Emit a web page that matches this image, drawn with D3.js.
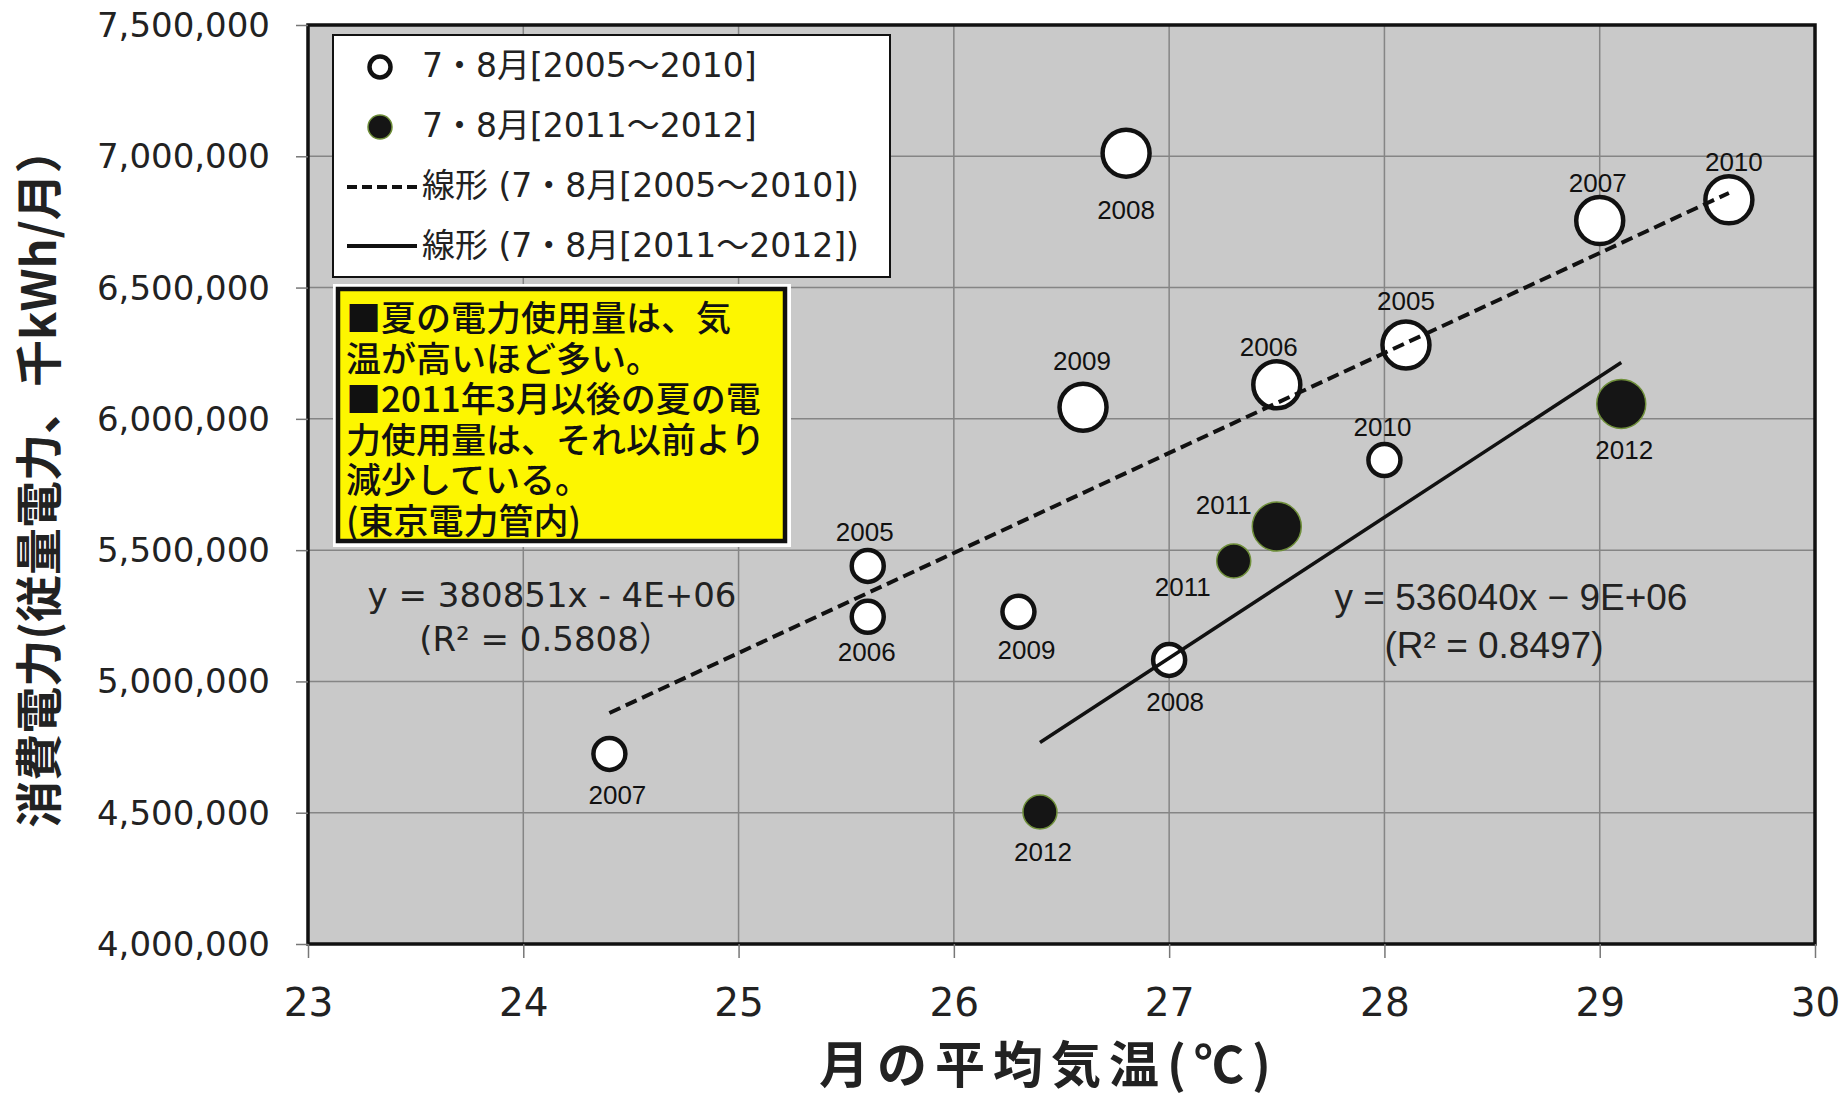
<!DOCTYPE html>
<html>
<head>
<meta charset="utf-8">
<script src="https://cdn.jsdelivr.net/npm/d3@7"></script>
<style>
  body { margin: 0; background: #fff; }
</style>
</head>
<body>
<svg id="chart"></svg>
<script>
// 7・8月 2005〜2010 (open circles)
const yearsA = [2005, 2006, 2007, 2008, 2009, 2010, 2005, 2006, 2007, 2008, 2009, 2010];
const monthsA = [8, 8, 8, 8, 8, 8, 7, 7, 7, 7, 7, 7];
const tempsA = [28.1, 27.5, 29.0, 26.8, 26.6, 29.6, 25.6, 25.6, 24.4, 27.0, 26.3, 28.0];
const usageA = [6281000, 6130000, 6755000, 7012000, 6044000, 6834000, 5440000, 5246000, 4724000, 5082000, 5265000, 5843000];

// 7・8月 2011〜2012 (filled circles)
const yearsB = [2011, 2012, 2011, 2012];
const monthsB = [8, 8, 7, 7];
const tempsB = [27.5, 29.1, 27.3, 26.4];
const usageB = [5590000, 6057000, 5459000, 4503000];

// linear trend lines
const trendSlopes = [380851, 536040];
const trendIntercepts = [-4413000, -9384000];
const trendRanges = [[24.4, 29.6], [26.4, 29.1]];
const trendEquations = ["y = 380851x - 4E+06", "y = 536040x − 9E+06"];
const trendR2 = ["(R² = 0.5808）", "(R² = 0.8497)"];

const legendLabels = ["7・8月[2005～2010]", "7・8月[2011～2012]", "線形 (7・8月[2005～2010])", "線形 (7・8月[2011～2012])"];
const noteLines = ["■夏の電力使用量は、気", "温が高いほど多い。", "■2011年3月以後の夏の電", "力使用量は、それ以前より", "減少している。", "(東京電力管内)"];

const xTicks = [23, 24, 25, 26, 27, 28, 29, 30];
const yTicks = [4000000, 4500000, 5000000, 5500000, 6000000, 6500000, 7000000, 7500000];
const xTitle = "月の平均気温(℃)";
const yTitle = "消費電力(従量電力、千kWh/月）";

const W = 1848, H = 1098;
const plot = { left: 308, right: 1815, top: 25, bottom: 944 };
const latin = "'DejaVu Sans', 'Noto Sans CJK JP', sans-serif";
const cjk = "'Noto Sans CJK JP', sans-serif";
const arial = "'Liberation Sans', Arial, sans-serif";

const svg = d3.select("#chart").attr("width", W).attr("height", H);

const x = d3.scaleLinear().domain([23, 30]).range([plot.left, plot.right]);
const y = d3.scaleLinear().domain([4000000, 7500000]).range([plot.bottom, plot.top]);

// plot background
svg.append("rect")
  .attr("x", plot.left).attr("y", plot.top)
  .attr("width", plot.right - plot.left).attr("height", plot.bottom - plot.top)
  .attr("fill", "#c9c9c9");

// grid
svg.append("g").selectAll("line").data(xTicks.slice(1, -1)).enter().append("line")
  .attr("x1", d => x(d)).attr("x2", d => x(d))
  .attr("y1", plot.top).attr("y2", plot.bottom)
  .attr("stroke", "#858585").attr("stroke-width", 1.5);
svg.append("g").selectAll("line").data(yTicks.slice(1, -1)).enter().append("line")
  .attr("x1", plot.left).attr("x2", plot.right)
  .attr("y1", d => y(d)).attr("y2", d => y(d))
  .attr("stroke", "#858585").attr("stroke-width", 1.5);

const pointsA = yearsA.map((yr, i) => ({ year: yr, month: monthsA[i], t: tempsA[i], v: usageA[i] }));
const pointsB = yearsB.map((yr, i) => ({ year: yr, month: monthsB[i], t: tempsB[i], v: usageB[i] }));

// marker radius by month (August drawn larger)
const radius = d3.scaleOrdinal().domain([7, 8]).range([17, 24.5]);

svg.append("g").selectAll("circle").data(pointsA).enter().append("circle")
  .attr("cx", d => x(d.t)).attr("cy", d => y(d.v))
  .attr("r", d => radius(d.month) - 1)
  .attr("fill", "#fff").attr("stroke", "#111").attr("stroke-width", 4.5);

svg.append("g").selectAll("circle").data(pointsB).enter().append("circle")
  .attr("cx", d => x(d.t)).attr("cy", d => y(d.v))
  .attr("r", d => radius(d.month))
  .attr("fill", "#151515").attr("stroke", "#6f8f3a").attr("stroke-width", 1.5);

// year labels, offsets from the marker centre
const offA = [[0, -44], [-8, -38], [-2, -38], [0, 57], [-1, -47], [5, -38], [-3, -34], [-1, 35], [8, 41], [6, 42], [8, 38], [-2, -33]];
const offB = [[-53, -22], [3, 46], [-51, 26], [3, 40]];

const labels = svg.append("g")
  .attr("font-family", arial).attr("font-size", 26).attr("fill", "#111").attr("text-anchor", "middle");
labels.selectAll(".la").data(pointsA).enter().append("text")
  .attr("x", (d, i) => x(d.t) + offA[i][0])
  .attr("y", (d, i) => y(d.v) + offA[i][1])
  .attr("dy", "0.36em")
  .text(d => d.year);
labels.selectAll(".lb").data(pointsB).enter().append("text")
  .attr("x", (d, i) => x(d.t) + offB[i][0])
  .attr("y", (d, i) => y(d.v) + offB[i][1])
  .attr("dy", "0.36em")
  .text(d => d.year);

// trend lines
const trendStyle = [{ dash: "12,6", w: 4 }, { dash: null, w: 3.5 }];
trendSlopes.forEach((m, i) => {
  const [x0, x1] = trendRanges[i];
  svg.append("line")
    .attr("x1", x(x0)).attr("y1", y(m * x0 + trendIntercepts[i]))
    .attr("x2", x(x1)).attr("y2", y(m * x1 + trendIntercepts[i]))
    .attr("stroke", "#111").attr("stroke-width", trendStyle[i].w)
    .attr("stroke-dasharray", trendStyle[i].dash);
});

// trend equations
svg.append("text").attr("x", 552).attr("y", 607)
  .attr("font-family", latin).attr("font-size", 34).attr("fill", "#222").attr("text-anchor", "middle")
  .text(trendEquations[0]);
svg.append("text").attr("x", 546).attr("y", 651)
  .attr("font-family", latin).attr("font-size", 34).attr("fill", "#222").attr("text-anchor", "middle")
  .text(trendR2[0]);
svg.append("text").attr("x", 1511).attr("y", 610)
  .attr("font-family", arial).attr("font-size", 37).attr("fill", "#222").attr("text-anchor", "middle")
  .text(trendEquations[1]);
svg.append("text").attr("x", 1494).attr("y", 658)
  .attr("font-family", arial).attr("font-size", 37).attr("fill", "#222").attr("text-anchor", "middle")
  .text(trendR2[1]);

// legend
const legend = svg.append("g");
legend.append("rect")
  .attr("x", 333).attr("y", 35).attr("width", 557).attr("height", 242)
  .attr("fill", "#fff").attr("stroke", "#111").attr("stroke-width", 2);
legend.append("circle").attr("cx", 380).attr("cy", 67).attr("r", 10.5)
  .attr("fill", "#fff").attr("stroke", "#111").attr("stroke-width", 4.5);
legend.append("circle").attr("cx", 380).attr("cy", 127).attr("r", 12)
  .attr("fill", "#151515").attr("stroke", "#6f8f3a").attr("stroke-width", 1.5);
legend.append("line").attr("x1", 347).attr("x2", 417).attr("y1", 187).attr("y2", 187)
  .attr("stroke", "#111").attr("stroke-width", 4).attr("stroke-dasharray", "10,5");
legend.append("line").attr("x1", 347).attr("x2", 417).attr("y1", 246).attr("y2", 246)
  .attr("stroke", "#111").attr("stroke-width", 4);
legend.selectAll("text").data(legendLabels).enter().append("text")
  .attr("x", 422).attr("y", (d, i) => 77 + i * 60)
  .attr("font-family", latin).attr("font-size", 33).attr("fill", "#222")
  .text(d => d);

// note box (one text block, one tspan per line)
const note = svg.append("g");
note.append("rect")
  .attr("x", 333).attr("y", 284).attr("width", 458).attr("height", 263)
  .attr("fill", "#fff");
note.append("rect")
  .attr("x", 338).attr("y", 289).attr("width", 447).attr("height", 252)
  .attr("fill", "#fdf600").attr("stroke", "#111").attr("stroke-width", 4.5);
note.append("text")
  .attr("x", 346).attr("y", 331)
  .attr("font-family", cjk).attr("font-weight", 500).attr("font-size", 35).attr("fill", "#111")
  .selectAll("tspan").data(noteLines).enter().append("tspan")
  .attr("x", 346).attr("dy", (d, i) => i === 0 ? 0 : 40.5)
  .text(d => d);

// frame
svg.append("rect")
  .attr("x", plot.left).attr("y", plot.top)
  .attr("width", plot.right - plot.left).attr("height", plot.bottom - plot.top)
  .attr("fill", "none").attr("stroke", "#111").attr("stroke-width", 3.5);

// axes
const yAxis = d3.axisLeft(y).tickValues(yTicks).tickFormat(d3.format(",")).tickSize(12).tickPadding(26);
const yg = svg.append("g").attr("transform", `translate(${plot.left},0)`).call(yAxis);
yg.select(".domain").remove();
yg.selectAll("line").attr("stroke", "#777").attr("stroke-width", 1.5);
yg.selectAll("text").attr("font-family", latin).attr("font-size", 34).attr("fill", "#222").attr("dy", "0.34em");

const xAxis = d3.axisBottom(x).tickValues(xTicks).tickFormat(d3.format("d")).tickSize(14).tickPadding(30);
const xg = svg.append("g").attr("transform", `translate(0,${plot.bottom})`).call(xAxis);
xg.select(".domain").remove();
xg.selectAll("line").attr("stroke", "#777").attr("stroke-width", 1.5);
xg.selectAll("text").attr("font-family", latin).attr("font-size", 39).attr("fill", "#222");

// axis titles
svg.append("text")
  .attr("transform", "translate(56,477) rotate(-90)")
  .attr("text-anchor", "middle")
  .attr("font-family", cjk).attr("font-weight", 700).attr("font-size", 47).attr("fill", "#222")
  .text(yTitle);
svg.append("text")
  .attr("x", 1049).attr("y", 1083)
  .attr("text-anchor", "middle")
  .attr("font-family", cjk).attr("font-weight", 700).attr("font-size", 50)
  .attr("letter-spacing", 8).attr("fill", "#222")
  .text(xTitle);
</script>
</body>
</html>
